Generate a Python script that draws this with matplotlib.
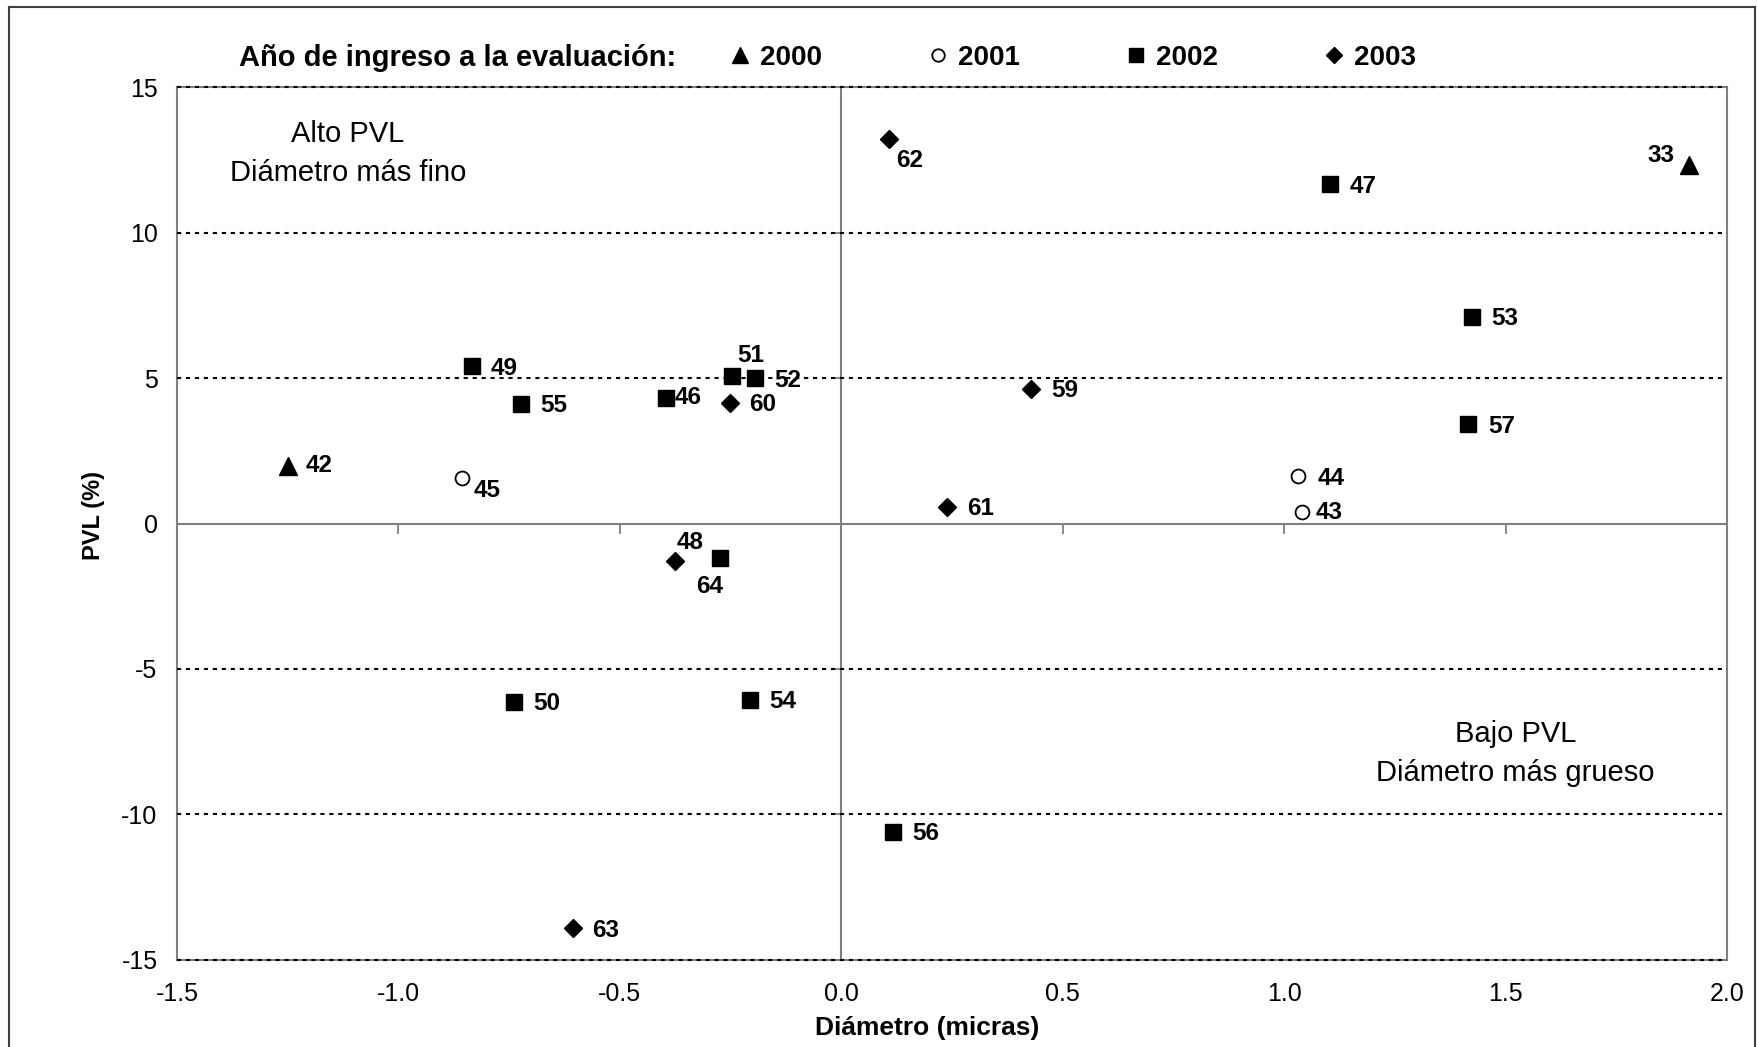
import matplotlib
matplotlib.use('Agg')
import matplotlib.pyplot as plt
from matplotlib.lines import Line2D
from matplotlib.markers import TICKDOWN, TICKLEFT

plt.rcParams['font.family'] = ['Liberation Sans', 'DejaVu Sans']
plt.rcParams['axes.unicode_minus'] = False

# valores por año de ingreso a la evaluacion
ids_2000 = [33, 42]
x_2000 = [1.913, -1.249]
y_2000 = [12.32, 1.98]

ids_2001 = [43, 44, 45]
x_2001 = [1.040, 1.032, -0.856]
y_2001 = [0.40, 1.63, 1.57]

ids_2002 = [46, 47, 48, 49, 50, 51, 52, 53, 54, 55, 56, 57]
x_2002 = [-0.395, 1.104, -0.273, -0.833, -0.739, -0.246, -0.196, 1.424, -0.207, -0.724, 0.117, 1.416]
y_2002 = [4.30, 11.66, -1.18, 5.42, -6.13, 5.07, 4.99, 7.11, -6.05, 4.11, -10.60, 3.41]

ids_2003 = [59, 60, 61, 62, 63, 64]
x_2003 = [0.429, -0.252, 0.239, 0.108, -0.607, -0.375]
y_2003 = [4.63, 4.15, 0.58, 13.21, -13.91, -1.28]

years = ['2000', '2001', '2002', '2003']
xticks = [-1.5, -1.0, -0.5, 0.0, 0.5, 1.0, 1.5, 2.0]
yticks = [-15, -10, -5, 0, 5, 10, 15]

# desplazamiento de las etiquetas (pixeles), por defecto a la derecha
label_offset = {33: (-28, 11), 43: (27, 1), 62: (20, -19), 42: (31, 2), 45: (25, -11),
                49: (32, -1), 46: (22, 3), 51: (18, 22), 48: (-30, 17), 64: (34, -24)}

fig = plt.figure(figsize=(17.58, 10.47), dpi=100)
ax = fig.add_axes([0.1007, 0.0831, 0.8817, 0.8338])

h1, = ax.plot(x_2000, y_2000, ls='none', marker='^', ms=13, color='black', zorder=5)
h2, = ax.plot(x_2001, y_2001, ls='none', marker='o', ms=10, mfc='white', mec='black', mew=1.3, zorder=5)
h3, = ax.plot(x_2002, y_2002, ls='none', marker='s', ms=11.5, color='black', zorder=5)
h4, = ax.plot(x_2003, y_2003, ls='none', marker='D', ms=9.5, color='black', zorder=5)

for ids, xs, ys in [(ids_2000, x_2000, y_2000), (ids_2001, x_2001, y_2001),
                    (ids_2002, x_2002, y_2002), (ids_2003, x_2003, y_2003)]:
    for i, x, y in zip(ids, xs, ys):
        dx, dy = label_offset.get(i, (33, 0))
        ax.annotate(str(i), (x, y), xytext=(dx, dy - 2), textcoords='offset pixels',
                    ha='center', va='center', fontsize=17.5, fontweight='bold', zorder=6)

ax.set_xlim(-1.5, 2.0)
ax.set_ylim(-15, 15)
ax.set_xticks(xticks)
ax.set_xticklabels(['%.1f' % v for v in xticks])
ax.set_yticks(yticks)
ax.tick_params(length=0, labelsize=18)
ax.tick_params(axis='x', pad=16)
ax.tick_params(axis='y', pad=14)

for s in ax.spines.values():
    s.set_color('#808080')
    s.set_linewidth(1.5)

# lineas de division
for v in yticks:
    if v != 0:
        ax.axhline(v, color='black', lw=1.5, ls=(0, (2, 2.3)), zorder=3, clip_on=False)
ax.axhline(0, color='#808080', lw=1.5, zorder=1)
ax.axvline(0, color='#808080', lw=1.5, zorder=1)
ax.plot(xticks, [0] * len(xticks), ls='none', marker=TICKDOWN, ms=7, mew=1.3, color='#808080', clip_on=False)
ax.plot([0] * len(yticks), yticks, ls='none', marker=TICKLEFT, ms=7, mew=1.3, color='#808080', clip_on=False)

ax.text(-1.114, 12.71, 'Alto PVL\nDiámetro más fino', ha='center', va='center',
        fontsize=21, linespacing=1.5)
ax.text(1.522, -7.91, 'Bajo PVL\nDiámetro más grueso', ha='center', va='center',
        fontsize=21, linespacing=1.5)

fig.text(927 / 1758, 0.018, 'Diámetro (micras)', ha='center', va='center', fontsize=19, fontweight='bold')
fig.text(93.5 / 1758, 1 - 516 / 1047, 'PVL (%)', ha='center', va='center', rotation=90,
         fontsize=17, fontweight='bold')

fig.text(239 / 1758, 0.945, 'Año de ingreso a la evaluación:', ha='left', va='center',
         fontsize=21, fontweight='bold')
fig.legend([h1, h2, h3, h4], years, loc='center left', bbox_to_anchor=(0.4147, 0.945), ncol=4,
           frameon=False, prop={'weight': 'bold', 'size': 20}, handlelength=0.8,
           handletextpad=0.3, columnspacing=3.8, borderpad=0, borderaxespad=0, markerscale=0.9)

# marco exterior
for xs, ys in [([0.005, 0.005], [-0.1, 0.9933]), ([0.005, 0.9985], [0.9933, 0.9933]),
               ([0.9985, 0.9985], [0.9933, -0.1])]:
    fig.add_artist(Line2D(xs, ys, color='#404040', lw=1.5))

fig.savefig('out.png', dpi=100)
